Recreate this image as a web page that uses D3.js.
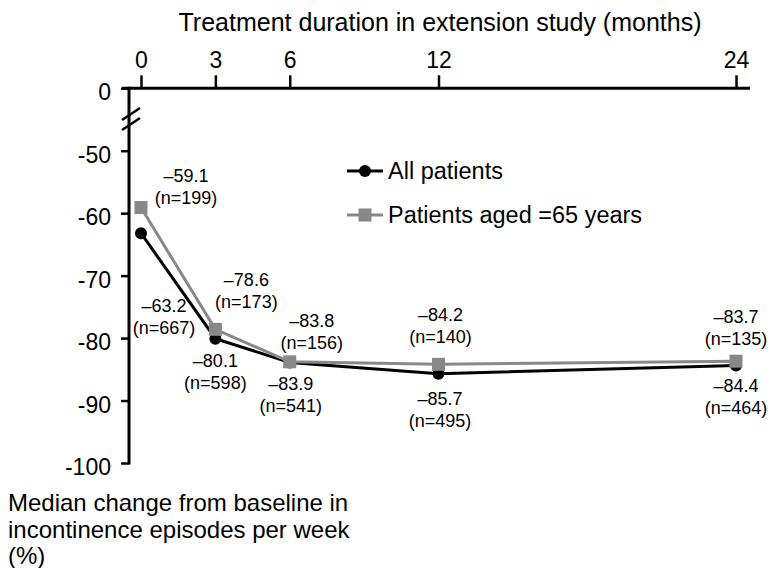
<!DOCTYPE html>
<html>
<head>
<meta charset="utf-8">
<script src="https://cdn.jsdelivr.net/npm/d3@7"></script>
<style>
  body { margin: 0; background: #fff; }
  svg { display: block; font-family: "Liberation Sans", Arial, sans-serif; }
</style>
</head>
<body>
<script>
// data
const months = [0, 3, 6, 12, 24];
const allPatients = [-63.2, -80.1, -83.9, -85.7, -84.4];
const allN = [667, 598, 541, 495, 464];
const older = [-59.1, -78.6, -83.8, -84.2, -83.7];
const olderN = [199, 173, 156, 140, 135];
const yTicks = [0, -50, -60, -70, -80, -90, -100];
const seriesNames = ["All patients", "Patients aged =65 years"];

const w = 768, h = 568;
const black = "#000", grey = "#888";

// label offsets from the point (first line baseline)
const allOffsets = [[23, 79], [0, 28], [1, 28], [1.5, 31], [0, 26]];
const olderOffsets = [[45, -26], [31, -43], [22, -35], [2, -43], [0, -38]];

const svg = d3.select("body").append("svg").attr("width", w).attr("height", h);

const x = d3.scaleLinear().domain([0, 24]).range([141, 736]);
// broken axis: 0 sits just below the top axis, -50..-100 linear
const y = d3.scaleLinear().domain([-100, -50, 0]).range([463, 150.7, 88.3]);

const axisX = 129;

// top x axis
const xAxis = d3.axisTop(x).tickValues(months).tickSize(13).tickPadding(7);
const gx = svg.append("g").attr("transform", "translate(0," + y(0) + ")").call(xAxis);
gx.select(".domain").remove();
gx.selectAll(".tick line").attr("stroke-width", 2.5);
gx.selectAll(".tick text").attr("font-size", 23).attr("font-family", "inherit");
svg.append("line")
  .attr("x1", 122).attr("x2", 750)
  .attr("y1", y(0)).attr("y2", y(0))
  .attr("stroke", black).attr("stroke-width", 3);

svg.append("text")
  .attr("x", 440).attr("y", 31)
  .attr("text-anchor", "middle")
  .attr("font-size", 25)
  .text("Treatment duration in extension study (months)");

// left y axis (plain hyphen for minus, as in the original)
const yAxis = d3.axisLeft(y).tickValues(yTicks).tickSize(8).tickPadding(10)
  .tickFormat((d) => String(d));
const gy = svg.append("g").attr("transform", "translate(" + axisX + ",0)").call(yAxis);
gy.select(".domain").remove();
gy.selectAll(".tick line").attr("stroke-width", 2.5);
gy.selectAll(".tick text").attr("font-size", 23).attr("font-family", "inherit").attr("dy", "0.5em");
svg.append("line")
  .attr("x1", axisX).attr("x2", axisX)
  .attr("y1", y(0) - 1.5).attr("y2", y(-100) + 1.5)
  .attr("stroke", black).attr("stroke-width", 3);

// break marks
[114, 124].forEach((c) => {
  svg.append("line")
    .attr("x1", axisX - 7).attr("x2", axisX + 11)
    .attr("y1", c + 6).attr("y2", c - 6)
    .attr("stroke", black).attr("stroke-width", 2.5);
});

// y title
const yTitle = ["Median change from baseline in", "incontinence episodes per week", "(%)"];
svg.append("text")
  .attr("font-size", 24)
  .selectAll("tspan")
  .data(yTitle)
  .enter()
  .append("tspan")
  .attr("x", 8)
  .attr("y", (d, i) => 511 + i * 26.5)
  .text((d) => d);

// lines
const line = d3.line().x((d) => x(d[0])).y((d) => y(d[1]));

svg.append("path")
  .datum(months.map((m, i) => [m, allPatients[i]]))
  .attr("d", line)
  .attr("fill", "none").attr("stroke", black).attr("stroke-width", 3);

svg.append("path")
  .datum(months.map((m, i) => [m, older[i]]))
  .attr("d", line)
  .attr("fill", "none").attr("stroke", grey).attr("stroke-width", 3);

svg.selectAll(".dotAll")
  .data(allPatients)
  .enter()
  .append("circle")
  .attr("cx", (d, i) => x(months[i]))
  .attr("cy", (d) => y(d))
  .attr("r", 6)
  .attr("fill", black);

svg.selectAll(".sqOld")
  .data(older)
  .enter()
  .append("rect")
  .attr("x", (d, i) => x(months[i]) - 6.5)
  .attr("y", (d) => y(d) - 6.5)
  .attr("width", 13).attr("height", 13)
  .attr("fill", grey);

// data labels
const fmt = (v) => "\u2013" + Math.abs(v).toFixed(1);

function addLabels(values, ns, offsets) {
  values.forEach((v, i) => {
    const t = svg.append("text")
      .attr("text-anchor", "middle")
      .attr("font-size", 18);
    const lx = x(months[i]) + offsets[i][0];
    const ly = y(v) + offsets[i][1];
    t.append("tspan").attr("x", lx).attr("y", ly).text(fmt(v));
    t.append("tspan").attr("x", lx).attr("y", ly + 22).text("(n=" + ns[i] + ")");
  });
}
addLabels(allPatients, allN, allOffsets);
addLabels(older, olderN, olderOffsets);

// legend
const legend = svg.append("g");
const legendY = [171, 215];
legend.selectAll("line")
  .data(seriesNames)
  .enter()
  .append("line")
  .attr("x1", 347).attr("x2", 383)
  .attr("y1", (d, i) => legendY[i]).attr("y2", (d, i) => legendY[i])
  .attr("stroke", (d, i) => (i === 0 ? black : grey))
  .attr("stroke-width", 3);
legend.append("circle").attr("cx", 365).attr("cy", legendY[0]).attr("r", 6).attr("fill", black);
legend.append("rect").attr("x", 358.5).attr("y", legendY[1] - 6.5).attr("width", 13).attr("height", 13).attr("fill", grey);
legend.selectAll("text")
  .data(seriesNames)
  .enter()
  .append("text")
  .attr("x", 388)
  .attr("y", (d, i) => legendY[i] + 8)
  .attr("font-size", 23.5)
  .text((d) => d);
</script>
</body>
</html>
